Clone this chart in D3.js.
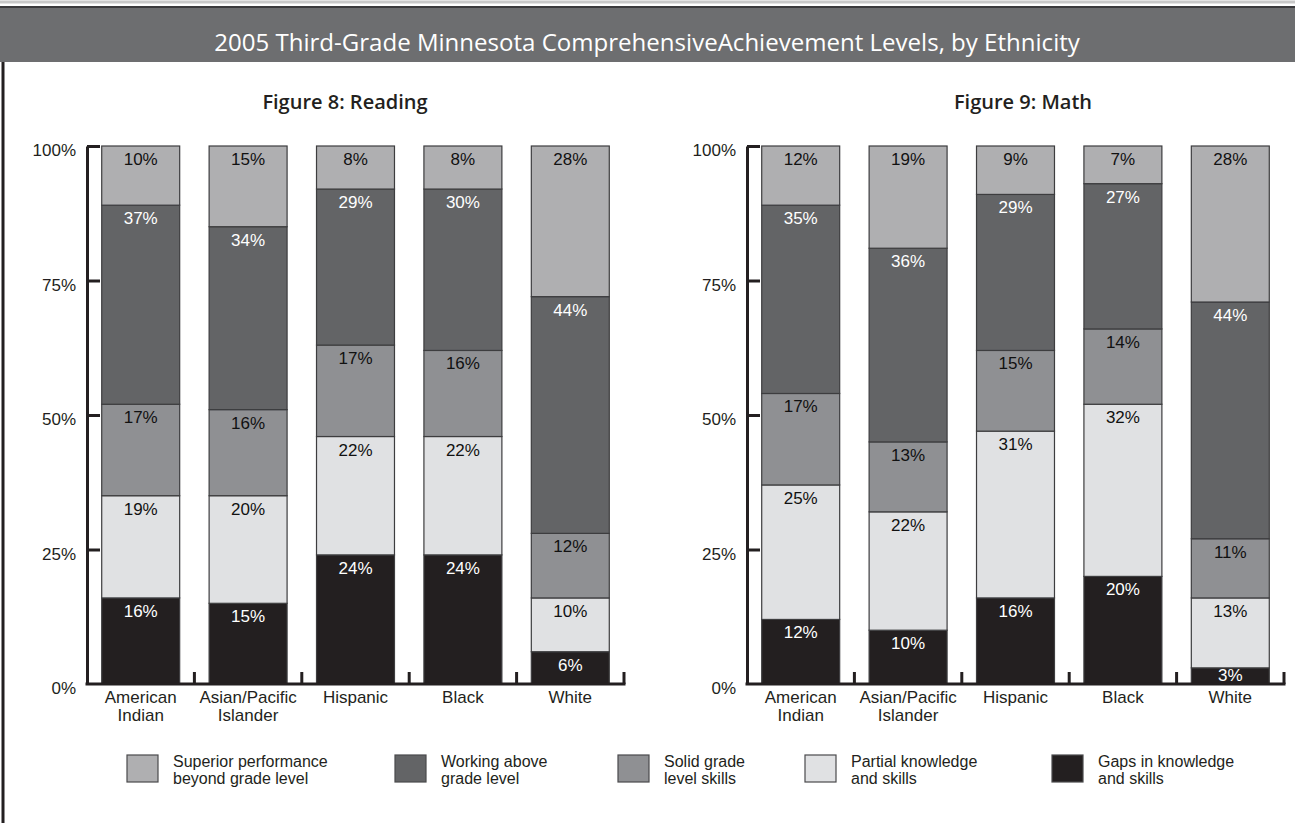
<!DOCTYPE html>
<html>
<head>
<meta charset="utf-8">
<script src="https://cdn.jsdelivr.net/npm/d3@7"></script>
<style>
  html, body { margin: 0; padding: 0; background: #ffffff; }
  svg { display: block; }
</style>
</head>
<body>
<svg id="chart" width="1295" height="823"></svg>
<script>
// ---------------- DATA ----------------
const mainTitle = "2005 Third-Grade Minnesota ComprehensiveAchievement Levels, by Ethnicity";
const chartTitles = ["Figure 8: Reading", "Figure 9: Math"];
const categories = ["American Indian", "Asian/Pacific Islander", "Hispanic", "Black", "White"];
const categoryLines = [["American", "Indian"], ["Asian/Pacific", "Islander"], ["Hispanic"], ["Black"], ["White"]];
const levels = ["superior", "working", "solid", "partial", "gaps"];
const levelLabels = [
  ["Superior performance", "beyond grade level"],
  ["Working above", "grade level"],
  ["Solid grade", "level skills"],
  ["Partial knowledge", "and skills"],
  ["Gaps in knowledge", "and skills"]
];
const levelColors = ["#afafb1", "#636466", "#8f9093", "#e0e1e3", "#231f20"];
const levelTextColors = ["#111", "#fff", "#111", "#111", "#fff"];

// Reading (Figure 8)
const readingSuperior = [10, 15, 8, 8, 28];
const readingWorking  = [37, 34, 29, 30, 44];
const readingSolid    = [17, 16, 17, 16, 12];
const readingPartial  = [19, 20, 22, 22, 10];
const readingGaps     = [16, 15, 24, 24, 6];

// Math (Figure 9)
const mathSuperior = [12, 19, 9, 7, 28];
const mathWorking  = [35, 36, 29, 27, 44];
const mathSolid    = [17, 13, 15, 14, 11];
const mathPartial  = [25, 22, 31, 32, 13];
const mathGaps     = [12, 10, 16, 20, 3];

const yTicks = [0, 25, 50, 75, 100];
const yTickLabels = ["0%", "25%", "50%", "75%", "100%"];

// ---------------- DRAWING ----------------
const svg = d3.select("#chart");
const FONT = "'Liberation Sans', Arial, Helvetica, sans-serif";
const TITLE_FONT = "'Open Sans', 'Noto Sans', sans-serif";
const INK = "#231f20";

function fitWidth(sel, target) {
  const w = sel.node().getComputedTextLength();
  const fs = parseFloat(sel.attr("font-size"));
  sel.attr("font-size", (fs * target / w).toFixed(2));
}

// Title bar
svg.append("rect").attr("x", 0).attr("y", 7).attr("width", 1295).attr("height", 55).attr("fill", "#6d6e70");
svg.append("line").attr("x1", 0).attr("x2", 1295).attr("y1", 7).attr("y2", 7).attr("stroke", "#3a3a3c").attr("stroke-width", 2);
svg.append("line").attr("x1", 0).attr("x2", 1295).attr("y1", 2).attr("y2", 2).attr("stroke", "#c8c8c8").attr("stroke-width", 3);
const tt = svg.append("text").attr("x", 647).attr("y", 51).attr("text-anchor", "middle")
  .attr("font-family", TITLE_FONT).attr("font-weight", 500).attr("font-size", 21).attr("fill", "#fff").text(mainTitle);
fitWidth(tt, 866);

// Left border
svg.append("line").attr("x1", 3).attr("x2", 3).attr("y1", 62).attr("y2", 823).attr("stroke", INK).attr("stroke-width", 3);

const charts = [
  { title: chartTitles[0], titleX: 345, x0: 87, x1: 624,
    series: [readingSuperior, readingWorking, readingSolid, readingPartial, readingGaps] },
  { title: chartTitles[1], titleX: 1023, x0: 747, x1: 1284,
    series: [mathSuperior, mathWorking, mathSolid, mathPartial, mathGaps] }
];

const yTop = 146, yBottom = 684;
const y = d3.scaleLinear().domain([0, 100]).range([yBottom, yTop]);

charts.forEach(c => {
  const g = svg.append("g");
  g.append("text").attr("x", c.titleX).attr("y", 109).attr("text-anchor", "middle")
    .attr("font-family", TITLE_FONT).attr("font-weight", 600).attr("font-size", 20).attr("fill", INK).text(c.title);

  const pad = 0.274;
  const x = d3.scaleBand().domain(categories).range([c.x0, c.x1]).paddingInner(pad).paddingOuter(pad / 2);

  const rows = categories.map((cat, i) => {
    const r = { cat };
    levels.forEach((lv, k) => r[lv] = c.series[k][i]);
    return r;
  });
  const stackOrder = ["gaps", "partial", "solid", "working", "superior"];
  const stacked = d3.stack().keys(stackOrder)(rows);
  // top segment fills to 100%
  stacked[stacked.length - 1].forEach(d => { d[1] = 100; });

  stacked.forEach(layer => {
    const k = levels.indexOf(layer.key);
    const lg = g.append("g");
    lg.selectAll("rect").data(layer).join("rect")
      .attr("x", d => x(d.data.cat))
      .attr("width", x.bandwidth())
      .attr("y", d => y(d[1]))
      .attr("height", d => y(d[0]) - y(d[1]))
      .attr("fill", levelColors[k])
      .attr("stroke", "#3d3d3f").attr("stroke-width", 1.2);
    lg.selectAll("text").data(layer).join("text")
      .attr("x", d => x(d.data.cat) + x.bandwidth() / 2)
      .attr("y", d => Math.min(y(d[1]) + 19, y(0) - 3))
      .attr("text-anchor", "middle")
      .attr("font-family", FONT).attr("font-size", 17)
      .attr("fill", levelTextColors[k])
      .text(d => d.data[layer.key] + "%");
  });

  // Y axis (ticks pointing into plot)
  const yAxis = d3.axisRight(y).tickValues(yTicks.filter(v => v > 0)).tickSize(13).tickSizeOuter(0).tickFormat("");
  const ya = g.append("g").attr("transform", `translate(${c.x0},0)`).call(yAxis);
  ya.select(".domain").attr("stroke", INK).attr("stroke-width", 3);
  ya.selectAll(".tick line").attr("stroke", INK).attr("stroke-width", 3);

  g.selectAll("text.ylab").data(yTicks).join("text").attr("class", "ylab")
    .attr("x", c.x0 - 11).attr("y", d => y(d) + 10)
    .attr("text-anchor", "end").attr("font-family", FONT).attr("font-size", 17).attr("fill", INK)
    .text((d, i) => yTickLabels[i]);

  // X axis line with upward separator ticks
  const step = x.step();
  g.append("line").attr("x1", c.x0 - 1.5).attr("x2", c.x1 + 1.5).attr("y1", y(0)).attr("y2", y(0))
    .attr("stroke", INK).attr("stroke-width", 3);
  g.selectAll("line.sep").data(categories).join("line").attr("class", "sep")
    .attr("x1", d => x(d) + x.bandwidth() + step * pad / 2)
    .attr("x2", d => x(d) + x.bandwidth() + step * pad / 2)
    .attr("y1", y(0) - 12).attr("y2", y(0))
    .attr("stroke", INK).attr("stroke-width", 3);

  // Category labels
  categories.forEach((cat, i) => {
    const t = g.append("text").attr("text-anchor", "middle").attr("font-family", FONT).attr("font-size", 17).attr("fill", INK);
    categoryLines[i].forEach((ln, j) => {
      t.append("tspan").attr("x", x(cat) + x.bandwidth() / 2).attr("y", 703 + j * 18).text(ln);
    });
  });
});

// Legend
const legendX = [127, 395, 618, 805, 1052];
const lg = svg.append("g");
levels.forEach((lv, k) => {
  lg.append("rect").attr("x", legendX[k]).attr("y", 755).attr("width", 31).attr("height", 27)
    .attr("fill", levelColors[k]).attr("stroke", "#4a4a4c").attr("stroke-width", 1.2);
  levelLabels[k].forEach((ln, j) => {
    lg.append("text").attr("font-family", FONT).attr("font-size", 16).attr("fill", INK)
      .attr("x", legendX[k] + 46).attr("y", 767 + j * 17).text(ln);
  });
});
</script>
</body>
</html>
